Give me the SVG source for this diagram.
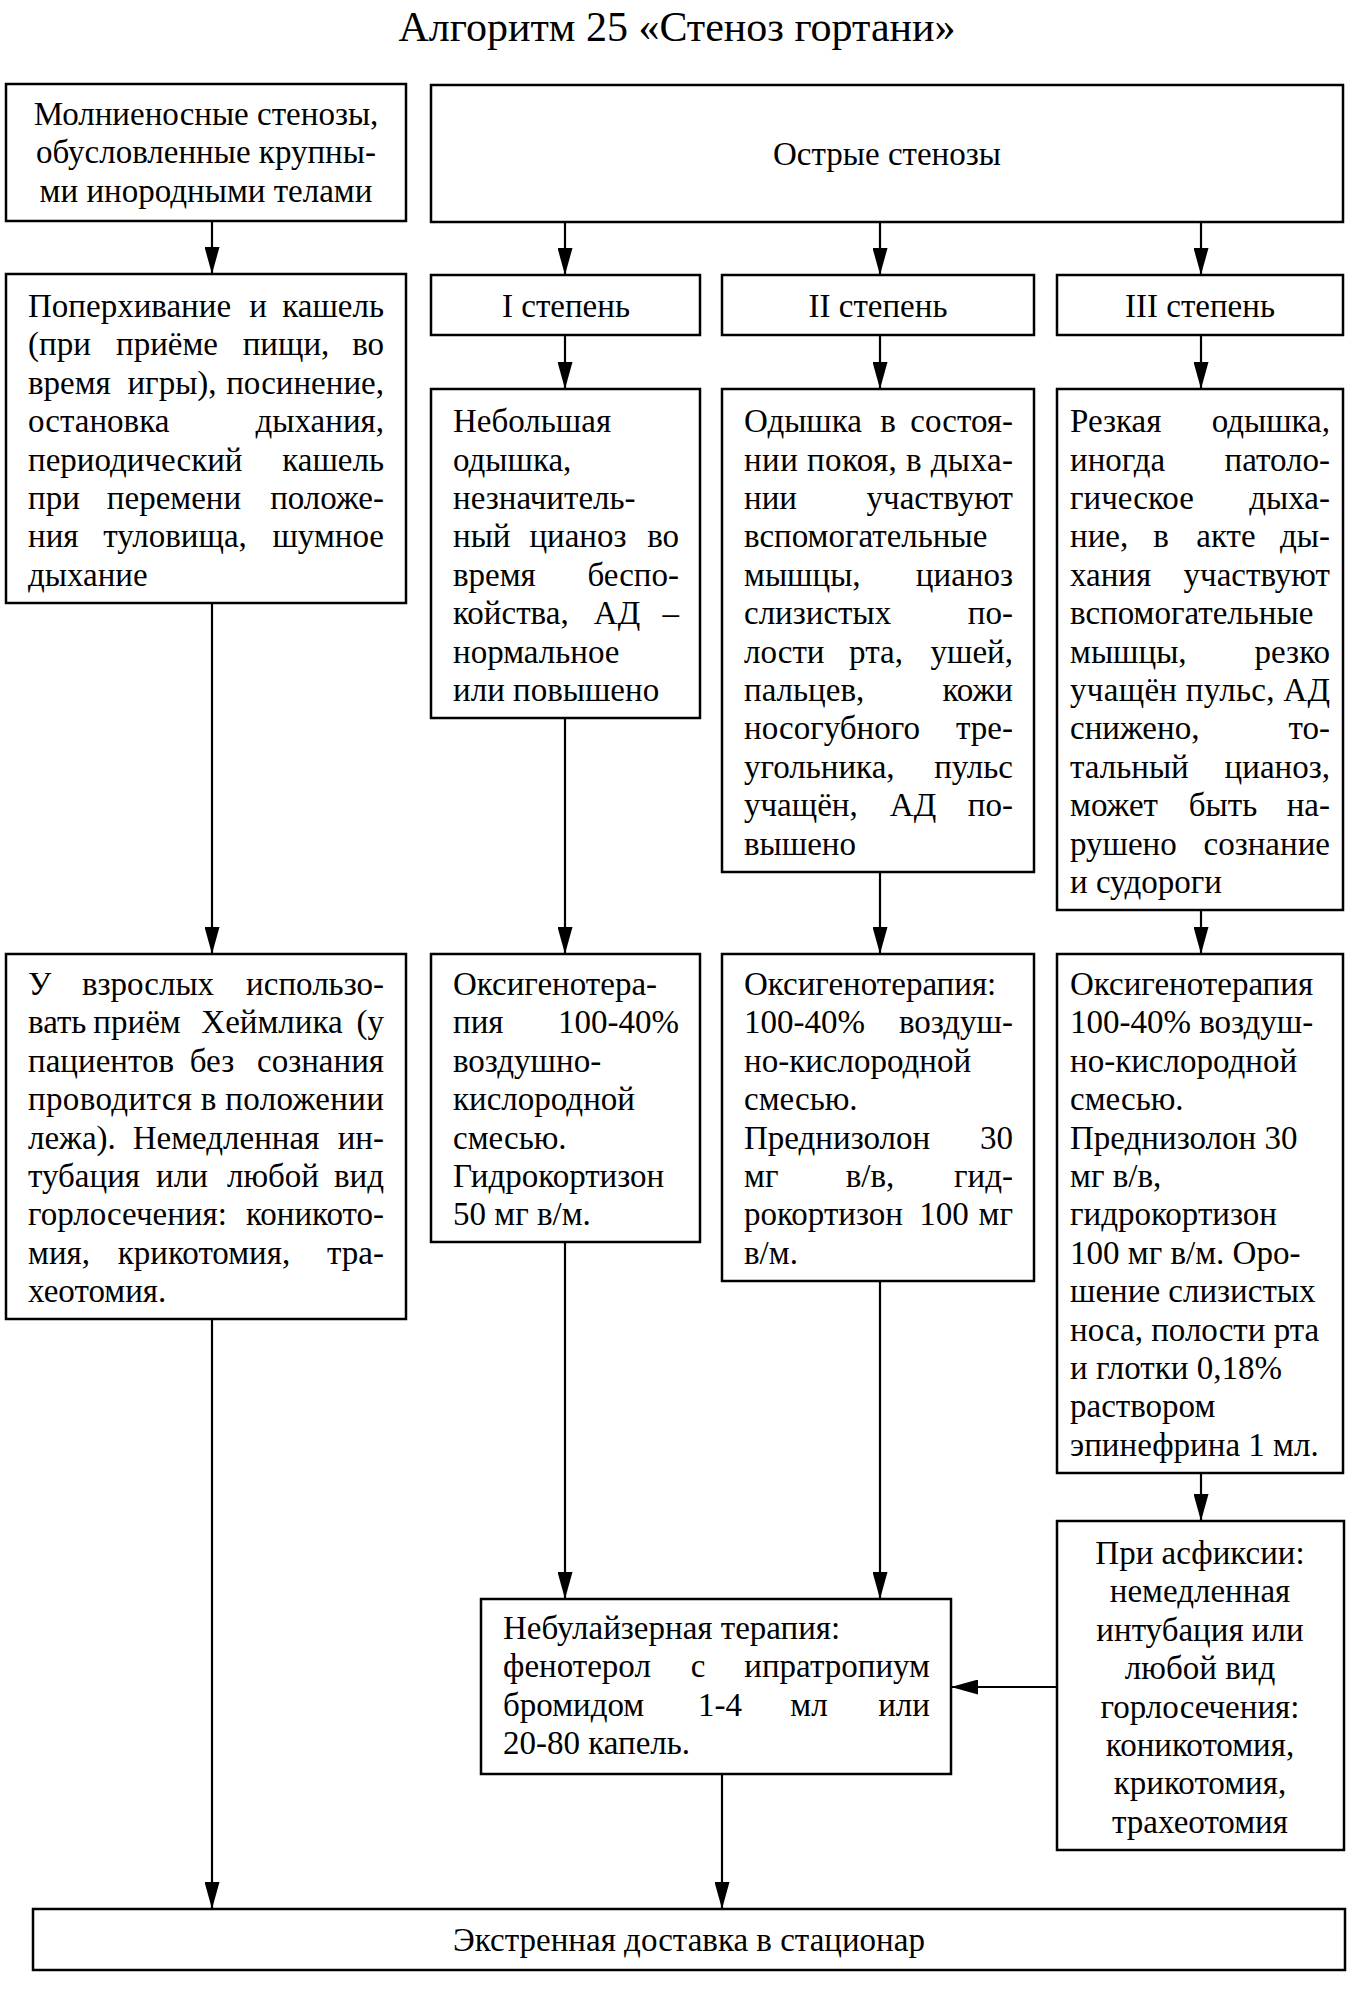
<svg xmlns="http://www.w3.org/2000/svg" width="1360" height="1990" viewBox="0 0 1360 1990">
<style>
.t{font-family:"Liberation Serif","Times New Roman",serif;font-size:33px;fill:#000}
.m{text-anchor:middle}
.e{text-anchor:end}
.title{font-family:"Liberation Serif","Times New Roman",serif;font-size:42px;fill:#000;text-anchor:middle}
.box{fill:#fff;stroke:#000;stroke-width:2.5}
.c{stroke:#000;stroke-width:2.2;fill:none}
</style>
<defs>
<marker id="ah" markerUnits="userSpaceOnUse" markerWidth="27" markerHeight="15" refX="27" refY="7.5" orient="auto">
<path d="M0,0 L27,7.5 L0,15 z" fill="#000"/>
</marker>
</defs>
<rect width="1360" height="1990" fill="#fff"/>
<text class="title" x="677" y="41">Алгоритм 25 «Стеноз гортани»</text>

<g id="connectors">
<line class="c" x1="212" y1="221" x2="212" y2="274" marker-end="url(#ah)"/>
<line class="c" x1="565" y1="222" x2="565" y2="275" marker-end="url(#ah)"/>
<line class="c" x1="880" y1="222" x2="880" y2="275" marker-end="url(#ah)"/>
<line class="c" x1="1201" y1="222" x2="1201" y2="275" marker-end="url(#ah)"/>
<line class="c" x1="565" y1="335" x2="565" y2="389" marker-end="url(#ah)"/>
<line class="c" x1="880" y1="335" x2="880" y2="389" marker-end="url(#ah)"/>
<line class="c" x1="1201" y1="335" x2="1201" y2="389" marker-end="url(#ah)"/>
<line class="c" x1="212" y1="603" x2="212" y2="954" marker-end="url(#ah)"/>
<line class="c" x1="565" y1="718" x2="565" y2="954" marker-end="url(#ah)"/>
<line class="c" x1="880" y1="872" x2="880" y2="954" marker-end="url(#ah)"/>
<line class="c" x1="1201" y1="910" x2="1201" y2="954" marker-end="url(#ah)"/>
<line class="c" x1="565" y1="1242" x2="565" y2="1599" marker-end="url(#ah)"/>
<line class="c" x1="880" y1="1281" x2="880" y2="1599" marker-end="url(#ah)"/>
<line class="c" x1="1201" y1="1473" x2="1201" y2="1521" marker-end="url(#ah)"/>
<line class="c" x1="1057" y1="1687" x2="951" y2="1687" stroke-width="3" marker-end="url(#ah)"/>
<line class="c" x1="212" y1="1319" x2="212" y2="1909" marker-end="url(#ah)"/>
<line class="c" x1="722" y1="1774" x2="722" y2="1909" marker-end="url(#ah)"/>
</g>

<g id="fulminant">
<rect class="box" x="6" y="84" width="400" height="137"/>
<text class="t m" x="206" y="125">Молниеносные стенозы,</text>
<text class="t m" x="206" y="163.4">обусловленные крупны-</text>
<text class="t m" x="206" y="201.8">ми инородными телами</text>
</g>

<g id="acute">
<rect class="box" x="431" y="85" width="912" height="137"/>
<text class="t m" x="887" y="165">Острые стенозы</text>
</g>

<g id="deg1">
<rect class="box" x="431" y="275" width="269" height="60"/>
<text class="t m" x="566" y="317">I степень</text>
</g>
<g id="deg2">
<rect class="box" x="722" y="275" width="312" height="60"/>
<text class="t m" x="878" y="317">II степень</text>
</g>
<g id="deg3">
<rect class="box" x="1057" y="275" width="286" height="60"/>
<text class="t m" x="1200" y="317">III степень</text>
</g>

<g id="choking">
<rect class="box" x="6" y="274" width="400" height="329"/>
<text class="t" x="28" y="317">Поперхивание</text><text class="t m" x="258" y="317">и</text><text class="t e" x="384" y="317">кашель</text>
<text class="t" x="28" y="355.4">(при</text><text class="t m" x="167" y="355.4">приёме</text><text class="t m" x="286" y="355.4">пищи,</text><text class="t e" x="384" y="355.4">во</text>
<text class="t" x="28" y="393.8">время</text><text class="t m" x="172" y="393.8">игры),</text><text class="t e" x="384" y="393.8">посинение,</text>
<text class="t" x="28" y="432.2">остановка</text><text class="t e" x="384" y="432.2">дыхания,</text>
<text class="t" x="28" y="470.6">периодический</text><text class="t e" x="384" y="470.6">кашель</text>
<text class="t" x="28" y="509">при</text><text class="t m" x="174" y="509">перемени</text><text class="t e" x="384" y="509">положе-</text>
<text class="t" x="28" y="547.4">ния</text><text class="t m" x="175" y="547.4">туловища,</text><text class="t e" x="384" y="547.4">шумное</text>
<text class="t" x="28" y="585.8">дыхание</text>
</g>

<g id="sym1">
<rect class="box" x="431" y="389" width="269" height="329"/>
<text class="t" x="453" y="432.2">Небольшая</text>
<text class="t" x="453" y="470.6">одышка,</text>
<text class="t" x="453" y="509">незначитель-</text>
<text class="t" x="453" y="547.4">ный</text><text class="t m" x="578" y="547.4">цианоз</text><text class="t e" x="679" y="547.4">во</text>
<text class="t" x="453" y="585.8">время</text><text class="t e" x="679" y="585.8">беспо-</text>
<text class="t" x="453" y="624.2">койства,</text><text class="t m" x="617" y="624.2">АД</text><text class="t e" x="679" y="624.2">–</text>
<text class="t" x="453" y="662.6">нормальное</text>
<text class="t" x="453" y="701">или повышено</text>
</g>

<g id="sym2">
<rect class="box" x="722" y="389" width="312" height="483"/>
<text class="t" x="744" y="432.2">Одышка</text><text class="t m" x="888" y="432.2">в</text><text class="t e" x="1013" y="432.2">состоя-</text>
<text class="t" x="744" y="470.6" textLength="269" lengthAdjust="spacing">нии покоя, в дыха-</text>
<text class="t" x="744" y="509">нии</text><text class="t e" x="1013" y="509">участвуют</text>
<text class="t" x="744" y="547.4">вспомогательные</text>
<text class="t" x="744" y="585.8">мышцы,</text><text class="t e" x="1013" y="585.8">цианоз</text>
<text class="t" x="744" y="624.2">слизистых</text><text class="t e" x="1013" y="624.2">по-</text>
<text class="t" x="744" y="662.6">лости</text><text class="t m" x="876" y="662.6">рта,</text><text class="t e" x="1013" y="662.6">ушей,</text>
<text class="t" x="744" y="701">пальцев,</text><text class="t e" x="1013" y="701">кожи</text>
<text class="t" x="744" y="739.4">носогубного</text><text class="t e" x="1013" y="739.4">тре-</text>
<text class="t" x="744" y="777.8">угольника,</text><text class="t e" x="1013" y="777.8">пульс</text>
<text class="t" x="744" y="816.2">учащён,</text><text class="t m" x="913" y="816.2">АД</text><text class="t e" x="1013" y="816.2">по-</text>
<text class="t" x="744" y="854.6">вышено</text>
</g>

<g id="sym3">
<rect class="box" x="1057" y="389" width="286" height="521"/>
<text class="t" x="1070" y="432.2">Резкая</text><text class="t e" x="1330" y="432.2">одышка,</text>
<text class="t" x="1070" y="470.6">иногда</text><text class="t e" x="1330" y="470.6">патоло-</text>
<text class="t" x="1070" y="509">гическое</text><text class="t e" x="1330" y="509">дыха-</text>
<text class="t" x="1070" y="547.4">ние,</text><text class="t m" x="1161" y="547.4">в</text><text class="t m" x="1226" y="547.4">акте</text><text class="t e" x="1330" y="547.4">ды-</text>
<text class="t" x="1070" y="585.8">хания</text><text class="t e" x="1330" y="585.8">участвуют</text>
<text class="t" x="1070" y="624.2">вспомогательные</text>
<text class="t" x="1070" y="662.6">мышцы,</text><text class="t e" x="1330" y="662.6">резко</text>
<text class="t" x="1070" y="701" textLength="260" lengthAdjust="spacing">учащён пульс, АД</text>
<text class="t" x="1070" y="739.4">снижено,</text><text class="t e" x="1330" y="739.4">то-</text>
<text class="t" x="1070" y="777.8">тальный</text><text class="t e" x="1330" y="777.8">цианоз,</text>
<text class="t" x="1070" y="816.2">может</text><text class="t m" x="1223" y="816.2">быть</text><text class="t e" x="1330" y="816.2">на-</text>
<text class="t" x="1070" y="854.6">рушено</text><text class="t e" x="1330" y="854.6">сознание</text>
<text class="t" x="1070" y="893">и судороги</text>
</g>

<g id="heimlich">
<rect class="box" x="6" y="954" width="400" height="365"/>
<text class="t" x="28" y="995">У</text><text class="t m" x="148" y="995">взрослых</text><text class="t e" x="384" y="995">использо-</text>
<text class="t" x="28" y="1033.4">вать</text><text class="t m" x="137" y="1033.4">приём</text><text class="t m" x="272" y="1033.4">Хеймлика</text><text class="t e" x="384" y="1033.4">(у</text>
<text class="t" x="28" y="1071.8">пациентов</text><text class="t m" x="212" y="1071.8">без</text><text class="t e" x="384" y="1071.8">сознания</text>
<text class="t" x="28" y="1110.2" textLength="356" lengthAdjust="spacing">проводится в положении</text>
<text class="t" x="28" y="1148.6">лежа).</text><text class="t m" x="226" y="1148.6">Немедленная</text><text class="t e" x="384" y="1148.6">ин-</text>
<text class="t" x="28" y="1187">тубация</text><text class="t m" x="182" y="1187">или</text><text class="t m" x="273" y="1187">любой</text><text class="t e" x="384" y="1187">вид</text>
<text class="t" x="28" y="1225.4">горлосечения:</text><text class="t e" x="384" y="1225.4">коникото-</text>
<text class="t" x="28" y="1263.8">мия,</text><text class="t m" x="204" y="1263.8">крикотомия,</text><text class="t e" x="384" y="1263.8">тра-</text>
<text class="t" x="28" y="1302.2">хеотомия.</text>
</g>

<g id="treat1">
<rect class="box" x="431" y="954" width="269" height="288"/>
<text class="t" x="453" y="995">Оксигенотера-</text>
<text class="t" x="453" y="1033.4">пия</text><text class="t e" x="679" y="1033.4">100-40%</text>
<text class="t" x="453" y="1071.8">воздушно-</text>
<text class="t" x="453" y="1110.2">кислородной</text>
<text class="t" x="453" y="1148.6">смесью.</text>
<text class="t" x="453" y="1187">Гидрокортизон</text>
<text class="t" x="453" y="1225.4">50 мг в/м.</text>
</g>

<g id="treat2">
<rect class="box" x="722" y="954" width="312" height="327"/>
<text class="t" x="744" y="995">Оксигенотерапия:</text>
<text class="t" x="744" y="1033.4">100-40%</text><text class="t e" x="1013" y="1033.4">воздуш-</text>
<text class="t" x="744" y="1071.8">но-кислородной</text>
<text class="t" x="744" y="1110.2">смесью.</text>
<text class="t" x="744" y="1148.6">Преднизолон</text><text class="t e" x="1013" y="1148.6">30</text>
<text class="t" x="744" y="1187">мг</text><text class="t m" x="870" y="1187">в/в,</text><text class="t e" x="1013" y="1187">гид-</text>
<text class="t" x="744" y="1225.4">рокортизон</text><text class="t m" x="944" y="1225.4">100</text><text class="t e" x="1013" y="1225.4">мг</text>
<text class="t" x="744" y="1263.8">в/м.</text>
</g>

<g id="treat3">
<rect class="box" x="1057" y="954" width="286" height="519"/>
<text class="t" x="1070" y="995">Оксигенотерапия</text>
<text class="t" x="1070" y="1033.4">100-40% воздуш-</text>
<text class="t" x="1070" y="1071.8">но-кислородной</text>
<text class="t" x="1070" y="1110.2">смесью.</text>
<text class="t" x="1070" y="1148.6">Преднизолон 30</text>
<text class="t" x="1070" y="1187">мг в/в,</text>
<text class="t" x="1070" y="1225.4">гидрокортизон</text>
<text class="t" x="1070" y="1263.8">100 мг в/м. Оро-</text>
<text class="t" x="1070" y="1302.2">шение слизистых</text>
<text class="t" x="1070" y="1340.6">носа, полости рта</text>
<text class="t" x="1070" y="1379">и глотки 0,18%</text>
<text class="t" x="1070" y="1417.4">раствором</text>
<text class="t" x="1070" y="1455.8">эпинефрина 1 мл.</text>
</g>

<g id="asphyxia">
<rect class="box" x="1057" y="1521" width="287" height="329"/>
<text class="t m" x="1200" y="1564">При асфиксии:</text>
<text class="t m" x="1200" y="1602.4">немедленная</text>
<text class="t m" x="1200" y="1640.8">интубация или</text>
<text class="t m" x="1200" y="1679.2">любой вид</text>
<text class="t m" x="1200" y="1717.6">горлосечения:</text>
<text class="t m" x="1200" y="1756">коникотомия,</text>
<text class="t m" x="1200" y="1794.4">крикотомия,</text>
<text class="t m" x="1200" y="1832.8">трахеотомия</text>
</g>

<g id="nebulizer">
<rect class="box" x="481" y="1599" width="470" height="175"/>
<text class="t" x="503" y="1639">Небулайзерная терапия:</text>
<text class="t" x="503" y="1677.4">фенотерол</text><text class="t m" x="698" y="1677.4">с</text><text class="t e" x="930" y="1677.4">ипратропиум</text>
<text class="t" x="503" y="1715.8">бромидом</text><text class="t m" x="720" y="1715.8">1-4</text><text class="t m" x="809" y="1715.8">мл</text><text class="t e" x="930" y="1715.8">или</text>
<text class="t" x="503" y="1754.2">20-80 капель.</text>
</g>

<g id="hospital">
<rect class="box" x="33" y="1909" width="1312" height="61"/>
<text class="t m" x="689" y="1951">Экстренная доставка в стационар</text>
</g>
</svg>
